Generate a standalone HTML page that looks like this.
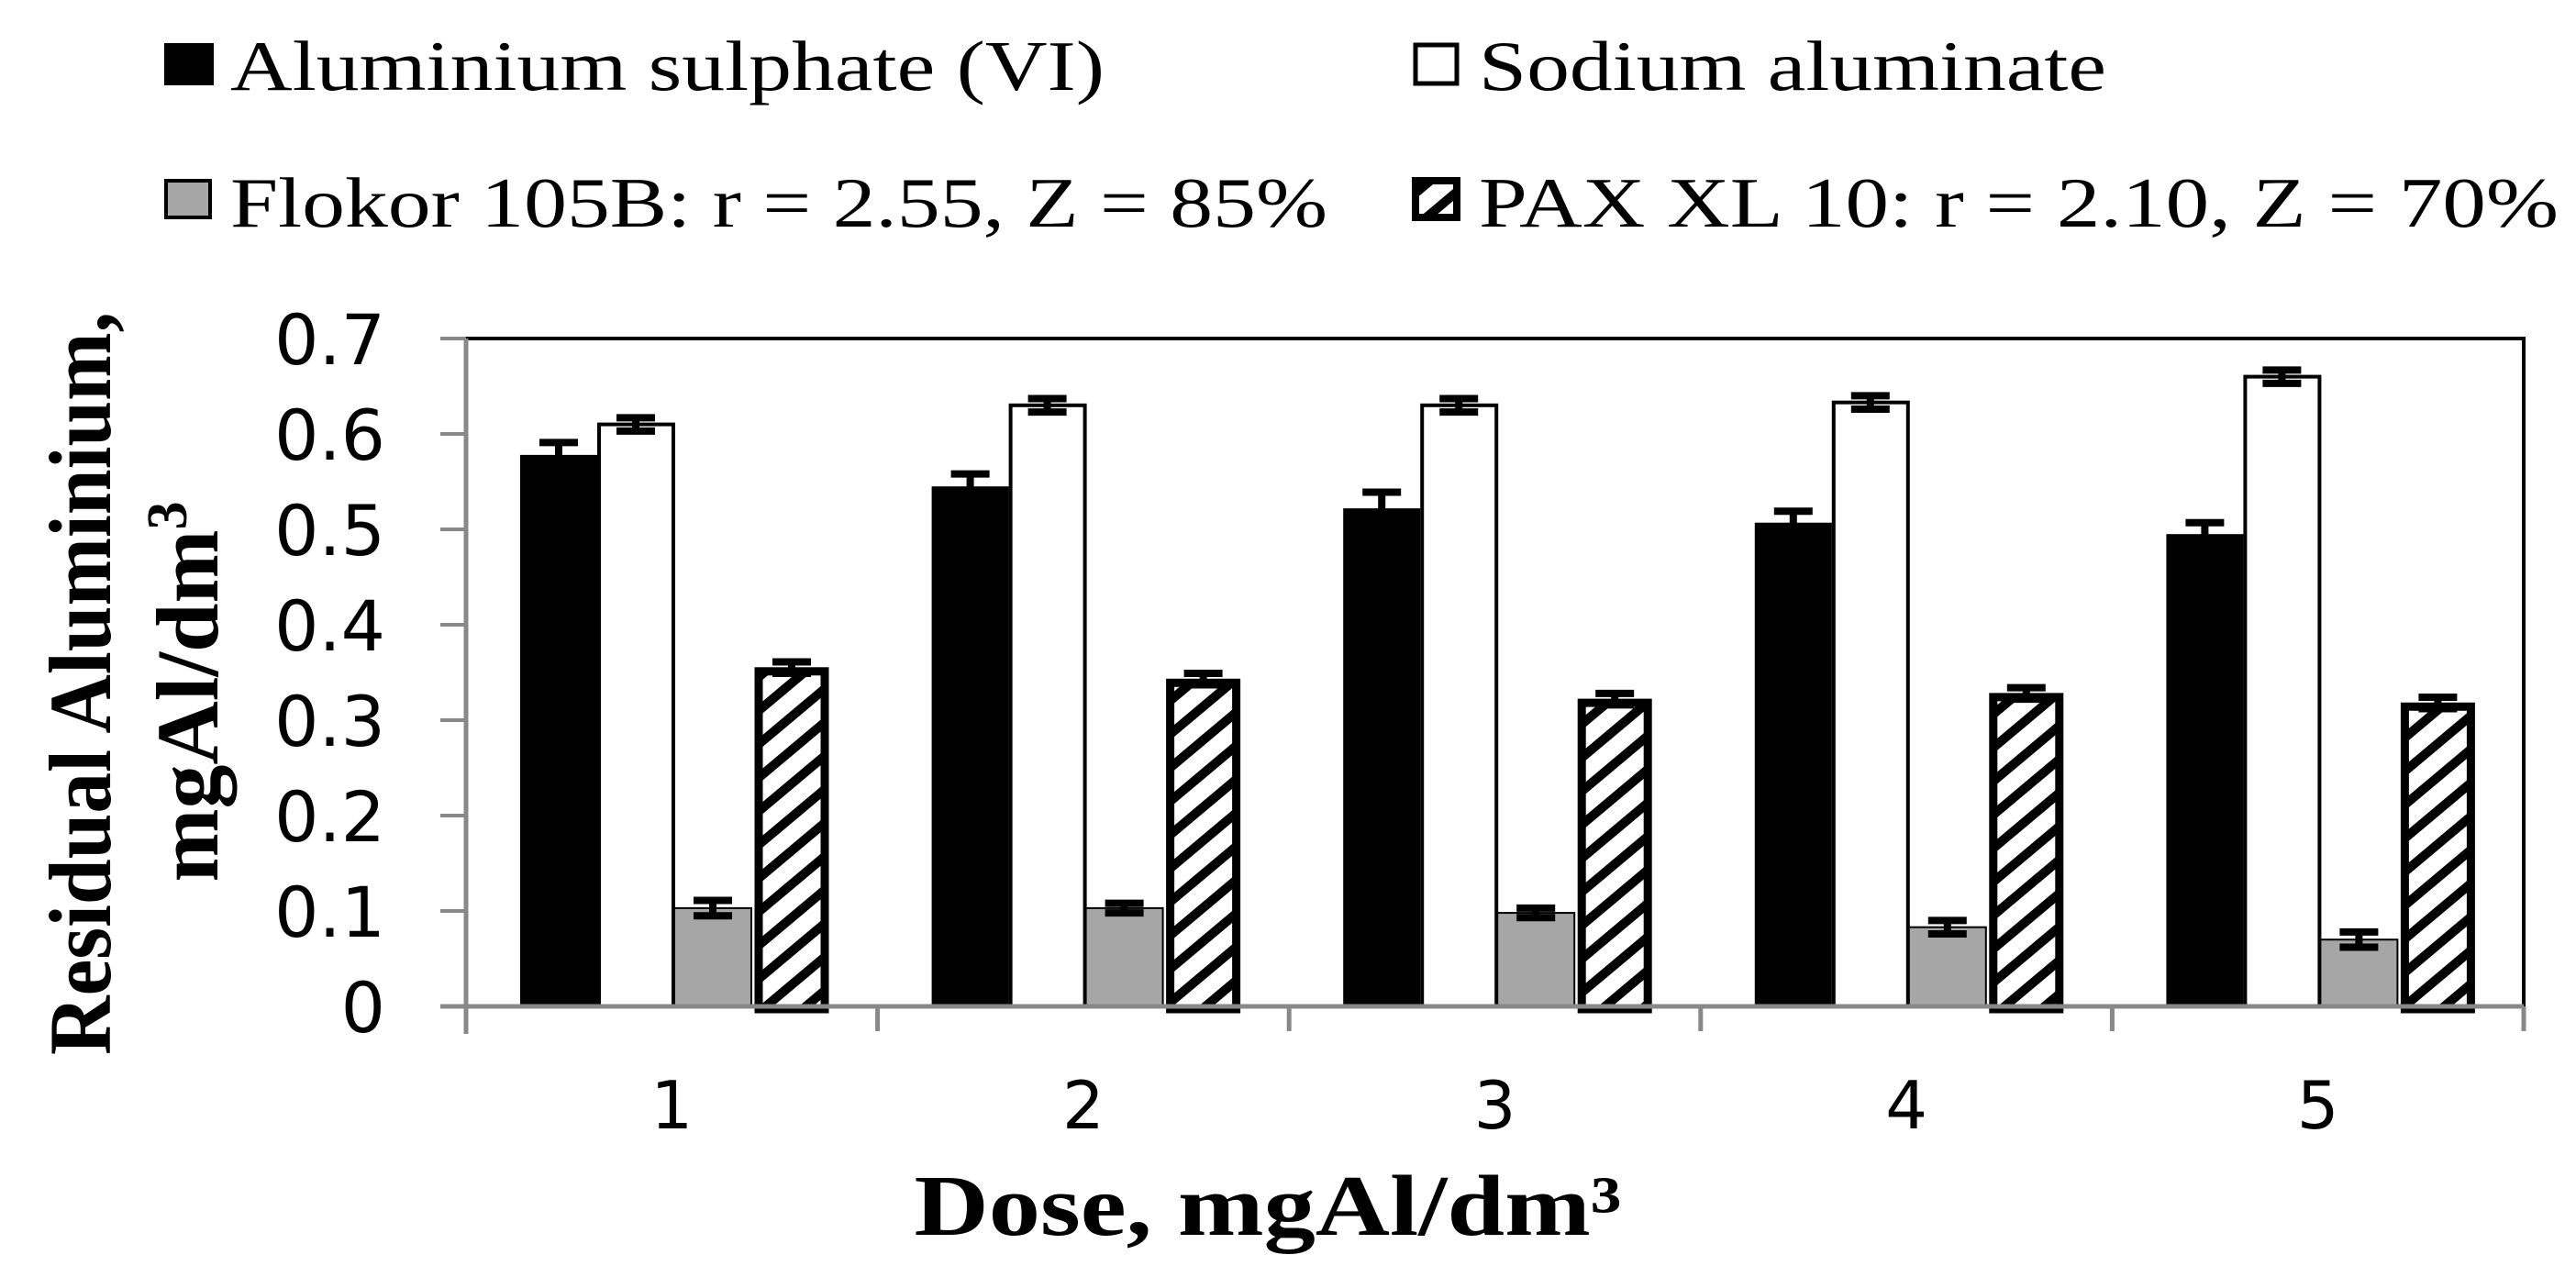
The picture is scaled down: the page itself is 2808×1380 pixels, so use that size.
<!DOCTYPE html>
<html><head><meta charset="utf-8"><style>
html,body{margin:0;padding:0;background:#fff}
svg{display:block}
</style></head><body>
<svg id="chart" width="2808" height="1380" viewBox="0 0 2808 1380" xmlns="http://www.w3.org/2000/svg">
<defs>
<pattern id="hatch" patternUnits="userSpaceOnUse" width="28" height="28" patternTransform="rotate(50)">
<rect width="28" height="28" fill="#fff"/>
<rect x="0" y="0" width="10" height="28" fill="#000"/>
</pattern>
</defs>
<g id="legend">
<g>
<rect x="181" y="49" width="50" height="42" fill="#000" stroke="#000" stroke-width="4"/>
<text x="251" y="98" font-family="Liberation Serif, serif" font-size="77" textLength="953" lengthAdjust="spacingAndGlyphs">Aluminium sulphate (VI)</text>
</g>
<g>
<rect x="1543" y="49" width="45" height="42" fill="#fff" stroke="#000" stroke-width="5"/>
<text x="1612" y="98" font-family="Liberation Serif, serif" font-size="77" textLength="684" lengthAdjust="spacingAndGlyphs">Sodium aluminate</text>
</g>
<g>
<rect x="181" y="197" width="48" height="40" fill="#a6a6a6" stroke="#000" stroke-width="4"/>
<text x="251" y="247" font-family="Liberation Serif, serif" font-size="77" textLength="1196" lengthAdjust="spacingAndGlyphs">Flokor 105B: r = 2.55, Z = 85%</text>
</g>
<g>
<rect x="1543" y="197" width="45" height="40" fill="url(#hatch)" stroke="#000" stroke-width="8"/>
<text x="1612" y="247" font-family="Liberation Serif, serif" font-size="77" textLength="1177" lengthAdjust="spacingAndGlyphs">PAX XL 10: r = 2.10, Z = 70%</text>
</g>
</g>
<g id="plot"></g>
<text x="1382" y="1346" text-anchor="middle" font-family="Liberation Serif, serif" font-weight="bold" font-size="94" textLength="771" lengthAdjust="spacingAndGlyphs">Dose, mgAl/dm³</text>
<g font-family="Liberation Serif, serif" font-weight="bold" font-size="96">
<text transform="translate(120,745) rotate(-90)" text-anchor="middle" textLength="810" lengthAdjust="spacingAndGlyphs">Residual  Aluminium,</text>
<text transform="translate(237,754) rotate(-90)" text-anchor="middle">mgAl/dm<tspan dy="-34" font-size="62">3</tspan></text>
</g>
</svg>
<script>
const categories = ['1','2','3','4','5'];
const seriesNames = ['Aluminium sulphate (VI)','Sodium aluminate','Flokor 105B','PAX XL 10'];
const sulphate = [0.578, 0.545, 0.522, 0.507, 0.495];
const aluminate = [0.610, 0.630, 0.630, 0.633, 0.660];
const flokor = [0.103, 0.103, 0.098, 0.083, 0.070];
const pax = [0.355, 0.343, 0.322, 0.328, 0.318];
const sulphateErr = [0.013, 0.013, 0.017, 0.012, 0.012];
const aluminateErr = [0.007, 0.007, 0.007, 0.007, 0.007];
const flokorErr = [0.008, 0.005, 0.005, 0.007, 0.008];
const paxErr = [0.006, 0.006, 0.006, 0.006, 0.006];
const yTicks = [0, 0.1, 0.2, 0.3, 0.4, 0.5, 0.6, 0.7];
const yTickLabels = ['0','0.1','0.2','0.3','0.4','0.5','0.6','0.7'];

const NS = 'http://www.w3.org/2000/svg';
const L = 508, R = 2751, T = 369, B = 1097, YMAX = 0.7;
const catW = (R - L) / categories.length;
const barW = 84, groupOff = 59;
function y(v){ return B - v / YMAX * (B - T); }
function xCat(i){ return L + i * catW; }
const plot = document.getElementById('plot');
function mk(tag, attrs, parent){
  const e = document.createElementNS(NS, tag);
  for (const k in attrs) e.setAttribute(k, attrs[k]);
  (parent || plot).appendChild(e);
  return e;
}
const frame = mk('rect', {x:L, y:T, width:R-L, height:B-T, fill:'none', stroke:'#000', 'stroke-width':4});


const yAxis = mk('g', {});


mk('line', {x1:L, y1:T, x2:L, y2:B+30, stroke:'#888', 'stroke-width':5}, yAxis);
yTicks.forEach((t, i) => {
  mk('line', {x1:L-28, y1:y(t), x2:L, y2:y(t), stroke:'#888', 'stroke-width':4}, yAxis);
  const tx = mk('text', {x:420, y:y(t)+28, 'text-anchor':'end', 'font-family':'DejaVu Sans, sans-serif', 'font-size':76}, yAxis);
  tx.textContent = yTickLabels[i];
  
  
});
const series = [sulphate, aluminate, flokor, pax];
const errs = [sulphateErr, aluminateErr, flokorErr, paxErr];
const fills = ['#000', '#fff', '#a6a6a6', 'url(#hatch)'];
const slugs = ['sulphate', 'aluminate', 'flokor', 'pax'];
categories.forEach((c, i) => {
  series.forEach((s, j) => {
    const x0 = xCat(i) + groupOff + j * barW;
    const v = s[i];
    let r;
    if (j === 3) {
      r = mk('rect', {x:x0+8, y:y(v)+4, width:barW-12, height:B-y(v)-1, fill:fills[j], stroke:'#000', 'stroke-width':9});
    } else if (j === 1) {
      r = mk('rect', {x:x0+2, y:y(v), width:barW-3, height:B-y(v), fill:'#fff', stroke:'#000', 'stroke-width':4});
    } else if (j === 2) {
      r = mk('rect', {x:x0, y:y(v), width:barW, height:B-y(v), fill:'#a6a6a6', stroke:'#000', 'stroke-width':2});
    } else {
      r = mk('rect', {x:x0, y:y(v), width:barW, height:B-y(v), fill:'#000'});
    }
    
    
    const cx = x0 + barW / 2 + (j === 3 ? 2 : 0);
    const e = errs[j][i];
    const g = mk('g', {stroke:'#000', 'stroke-width':8});
    
    
    mk('line', {x1:cx, y1:y(v+e), x2:cx, y2:y(v-e)}, g);
    mk('line', {x1:cx-21, y1:y(v+e), x2:cx+21, y2:y(v+e)}, g);
    mk('line', {x1:cx-21, y1:y(v-e), x2:cx+21, y2:y(v-e)}, g);
  });
});
const xAxis = mk('g', {});


mk('line', {x1:L-28, y1:B, x2:R, y2:B, stroke:'#888', 'stroke-width':5}, xAxis);
for (let i = 0; i <= categories.length; i++) {
  mk('line', {x1:xCat(i), y1:B, x2:xCat(i), y2:B+27, stroke:'#888', 'stroke-width':5}, xAxis);
}
categories.forEach((c, i) => {
  const tx = mk('text', {x:xCat(i)+catW/2, y:1230, 'text-anchor':'middle', 'font-family':'DejaVu Sans, sans-serif', 'font-size':72}, xAxis);
  tx.textContent = c;
  
  
});
</script>
</body></html>
